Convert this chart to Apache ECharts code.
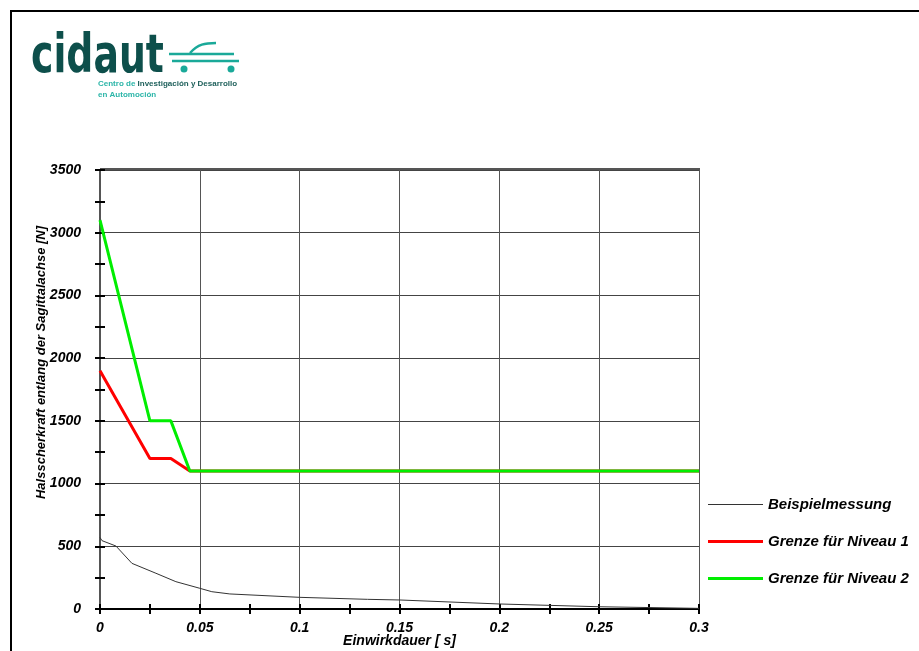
<!DOCTYPE html>
<html>
<head>
<meta charset="utf-8">
<script src="https://cdn.jsdelivr.net/npm/echarts@6/dist/echarts.min.js"></script>
<style>html,body{margin:0;padding:0;background:#fff}#c{width:919px;height:651px}</style>
</head>
<body>
<div id="c"></div>
<script>
// ---- data ----
var xTicks = ['0', '0.05', '0.1', '0.15', '0.2', '0.25', '0.3'];
var yTicks = ['0', '500', '1000', '1500', '2000', '2500', '3000', '3500'];
var seriesNames = ['Beispielmessung', 'Grenze für Niveau 1', 'Grenze für Niveau 2'];
var measureT = [0, 0.001, 0.008, 0.016, 0.028, 0.038, 0.050, 0.056, 0.065, 0.100, 0.134, 0.150, 0.200, 0.250, 0.300];
var measureV = [570, 545, 502, 364, 285, 218, 165, 138, 120, 93, 77, 72, 40, 18, 5];
var level1T = [0, 0.025, 0.0355, 0.045, 0.3];
var level1V = [1900, 1200, 1200, 1100, 1100];
var level2T = [0, 0.025, 0.0355, 0.045, 0.3];
var level2V = [3100, 1500, 1500, 1100, 1100];
var xTitle = 'Einwirkdauer [ s]';
var yTitle = 'Halsscherkraft entlang der Sagittalachse [N]';

function pairs(t, v) { return t.map(function (x, i) { return [x, v[i]]; }); }

var FONT = 'Liberation Sans, Arial, sans-serif';
var labStyle = { fontFamily: FONT, fontWeight: 'bold', fontStyle: 'italic', fontSize: 14, color: '#000' };

var chart = echarts.init(document.getElementById('c'), null, { renderer: 'canvas' });
var opt = {
  animation: false,
  backgroundColor: '#fff',
  grid: { left: 100, right: 220, top: 170, bottom: 42, show: false, containLabel: false, outerBoundsMode: 'none' },
  legend: {
    orient: 'vertical', left: 708, top: 497, itemGap: 22, padding: 0,
    itemWidth: 55, itemHeight: 14, symbolKeepAspect: true,
    textStyle: { fontFamily: FONT, fontWeight: 'bold', fontStyle: 'italic', fontSize: 15, color: '#000' },
    data: [
      { name: seriesNames[0], icon: 'path://M0,0 L55,0 L55,1 L0,1 Z' },
      { name: seriesNames[1], icon: 'path://M0,0 L55,0 L55,3 L0,3 Z' },
      { name: seriesNames[2], icon: 'path://M0,0 L55,0 L55,3 L0,3 Z' }
    ]
  },
  xAxis: [{
    type: 'value', min: 0, max: 0.3, interval: 0.05,
    axisLine: { show: true, onZero: false, lineStyle: { color: '#000', width: 2 } },
    axisTick: { show: true, length: 5, lineStyle: { color: '#000', width: 2 } },
    minorTick: { show: true, splitNumber: 2, length: 5, lineStyle: { color: '#000', width: 2 } },
    splitLine: { show: true, lineStyle: { color: '#555', width: 1 } },
    axisLabel: Object.assign({ margin: 12, formatter: function (v) { var i = Math.round(v / 0.05); return xTicks[i]; } }, labStyle),
    name: xTitle, nameLocation: 'middle', nameGap: 25, nameMoveOverlap: false,
    nameTextStyle: { fontFamily: FONT, fontWeight: 'bold', fontStyle: 'italic', fontSize: 14, color: '#000' }
  }, {
    type: 'value', min: 0, max: 0.3, interval: 0.05, position: 'bottom',
    axisLine: { show: false }, axisLabel: { show: false }, splitLine: { show: false },
    axisTick: { show: true, inside: true, length: 5, lineStyle: { color: '#000', width: 2 } },
    minorTick: { show: true, splitNumber: 2, length: 5, lineStyle: { color: '#000', width: 2 } }
  }],
  yAxis: [{
    type: 'value', min: 0, max: 3500, interval: 500,
    axisLine: { show: true, onZero: false, lineStyle: { color: '#000', width: 2 } },
    axisTick: { show: true, length: 5, lineStyle: { color: '#000', width: 2 } },
    minorTick: { show: true, splitNumber: 2, length: 5, lineStyle: { color: '#000', width: 2 } },
    splitLine: { show: true, lineStyle: { color: '#444', width: 1 } },
    axisLabel: Object.assign({ margin: 19, formatter: function (v) { return yTicks[Math.round(v / 500)]; } }, labStyle),
    name: yTitle, nameLocation: 'middle', nameGap: 52, nameRotate: 90, nameMoveOverlap: false,
    nameTextStyle: { fontFamily: FONT, fontWeight: 'bold', fontStyle: 'italic', fontSize: 13, color: '#000', padding: [0, 0, 0, 54] }
  }, {
    type: 'value', min: 0, max: 3500, interval: 500, position: 'left',
    axisLine: { show: false }, axisLabel: { show: false }, splitLine: { show: false },
    axisTick: { show: true, inside: true, length: 5, lineStyle: { color: '#000', width: 2 } },
    minorTick: { show: true, splitNumber: 2, length: 5, lineStyle: { color: '#000', width: 2 } }
  }, {
    type: 'value', min: 0, max: 3500, position: 'right',
    axisLine: { show: true, lineStyle: { color: '#555', width: 2 } },
    axisTick: { show: false }, axisLabel: { show: false }, splitLine: { show: false }
  }],
  series: [
    { name: seriesNames[0], type: 'line', symbol: 'none', data: pairs(measureT, measureV),
      lineStyle: { color: '#333', width: 1 }, itemStyle: { color: '#333' }, z: 3 },
    { name: seriesNames[1], type: 'line', symbol: 'none', data: pairs(level1T, level1V),
      lineStyle: { color: '#ff0000', width: 3 }, itemStyle: { color: '#ff0000' }, z: 4 },
    { name: seriesNames[2], type: 'line', symbol: 'none', data: pairs(level2T, level2V),
      lineStyle: { color: '#00ee00', width: 3 }, itemStyle: { color: '#00ee00' }, z: 5 }
  ],
  graphic: [
    // outer frame
    { type: 'rect', shape: { x: 11, y: 11, width: 1000, height: 1000 }, style: { fill: 'none', stroke: '#000', lineWidth: 2 }, silent: true },
    // plot top border
    { type: 'line', shape: { x1: 100, y1: 169, x2: 700, y2: 169 }, style: { stroke: '#555', lineWidth: 2 } },
    // logo
    { type: 'text', left: 31, top: 32, scaleX: 0.84, scaleY: 1.18, style: { text: 'cidaut', font: 'bold 45px "DejaVu Sans", sans-serif', fill: '#0d4f4b' } },
    { type: 'line', shape: { x1: 169, y1: 54, x2: 234, y2: 54 }, style: { stroke: '#1aa999', lineWidth: 2.5 } },
    { type: 'line', shape: { x1: 172, y1: 61, x2: 239, y2: 61 }, style: { stroke: '#1aa999', lineWidth: 2.5 } },
    { type: 'bezierCurve', shape: { x1: 190, y1: 53, x2: 216, y2: 43, cpx1: 198, cpy1: 44, cpx2: 205, cpy2: 43 }, style: { stroke: '#1aa999', lineWidth: 2.5, fill: 'none' } },
    { type: 'circle', shape: { cx: 184, cy: 69, r: 3.5 }, style: { fill: '#1aa999' } },
    { type: 'circle', shape: { cx: 231, cy: 69, r: 3.5 }, style: { fill: '#1aa999' } },
    { type: 'text', left: 98, top: 80, style: { rich: { a: { fill: '#2bb5a8', font: 'bold 8px "Liberation Sans", sans-serif' }, b: { fill: '#1d5f5a', font: 'bold 8px "Liberation Sans", sans-serif' } }, text: '{a|Centro de }{b|Investigación y Desarrollo}' } },
    { type: 'text', left: 98, top: 91, style: { text: 'en Automoción', fill: '#2bb5a8', font: 'bold 8px "Liberation Sans", sans-serif' } }
  ]
};
chart.setOption(opt);
</script>
</body>
</html>
